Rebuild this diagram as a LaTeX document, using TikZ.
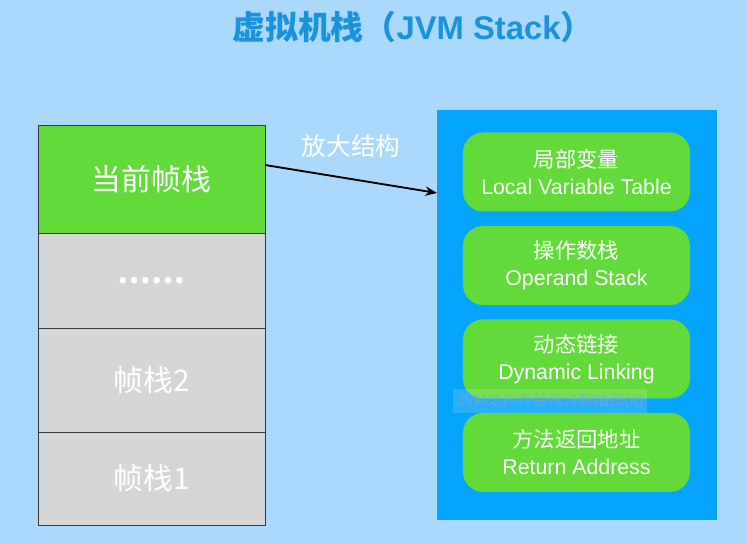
\documentclass[tikz,border=0pt]{standalone}
\usepackage{fontspec}
\setmainfont{Liberation Sans}
\newfontfamily\cjk{Noto Sans CJK SC}
\usepackage{xcolor}
\usetikzlibrary{arrows.meta, positioning}

\definecolor{bgblue}{HTML}{ABD9FD}
\definecolor{titleblue}{HTML}{1B93DC}
\definecolor{framegreen}{HTML}{62DA3A}
\definecolor{framegray}{HTML}{D6D6D6}
\definecolor{panelblue}{HTML}{05A4FF}
\definecolor{edgegray}{HTML}{3A3A3A}
\definecolor{markgray}{HTML}{8AA6BC}

\begin{document}
\begin{tikzpicture}[x=0.03cm, y=-0.03cm, >={Stealth[length=10pt,width=8pt]}]
        % Define styles
        \tikzstyle{frame} = [rectangle, minimum width=6.81cm, draw=edgegray, line width=0.8pt, outer sep=0pt, inner sep=0pt, text=white, font=\cjk\fontsize{25.5}{30}\selectfont]
        \tikzstyle{part} = [rectangle, rounded corners=0.6cm, minimum width=6.81cm, minimum height=2.37cm, fill=framegreen, text=white, align=center, font=\fontsize{18.2}{23}\selectfont]
        \tikzstyle{arrow} = [line width=1.6pt, ->]

        % Background
        \fill[bgblue] (0,0) rectangle (747,544);
        \useasboundingbox (0,0) rectangle (747,544);

        % Title
        \node (title) at (413,27) {\color{titleblue}\cjk\bfseries\fontsize{28}{32}\selectfont 虚拟机栈（{\fontspec{Liberation Sans}\bfseries JVM Stack}）};

        % Left: stack of frames
        \node (cur) [frame, fill=framegreen, minimum height=3.24cm] at (151.5,179) {当前帧栈};
        \node (dots) [frame, fill=framegray, minimum height=2.85cm, below=0pt of cur] {\raisebox{-5pt}{\bfseries ……}};
        \node (frame2) [frame, fill=framegray, minimum height=3.12cm, below=0pt of dots] {帧栈2};
        \node (frame1) [frame, fill=framegray, minimum height=2.79cm, below=0pt of frame2] {帧栈1};

        % Right: enlarged structure
        \node (panel) [rectangle, fill=panelblue, minimum width=8.4cm, minimum height=12.3cm, outer sep=0pt] at (577,315) {};
        \node (locals) [part] at (576.5,172) {{\cjk 局部变量}\\Local Variable Table};
        \node (operand) [part, below=0.42cm of locals] {{\cjk 操作数栈}\\Operand Stack};
        \node (linking) [part, below=0.42cm of operand] {{\cjk 动态链接}\\Dynamic Linking};
        \node (retaddr) [part, below=0.42cm of linking] {{\cjk 方法返回地址}\\Return Address};

        % Watermark
        \node (mark) [fill=white, fill opacity=0.14, text opacity=0.6, text=markgray, minimum width=5.7cm, minimum height=0.66cm, font=\fontsize{13}{15}\selectfont] at (550,401) {JVM{\cjk 之内存结构详解插图}(4)};

        % Arrow
        \draw [arrow] ([yshift=0.42cm]cur.east) -- node[above=0.5cm, text=white, font=\cjk\fontsize{21}{24}\selectfont] {放大结构} ([yshift=3.66cm]panel.west);
    \end{tikzpicture}
\end{document}
